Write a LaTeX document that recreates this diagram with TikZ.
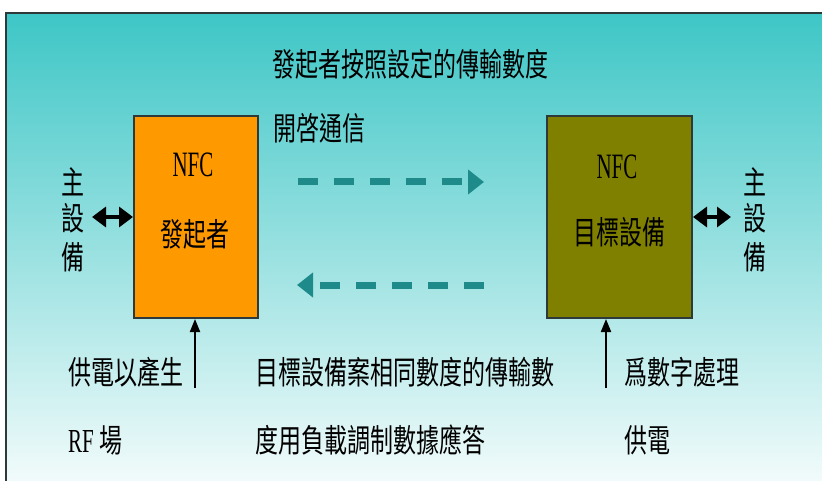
\documentclass[tikz,border=0pt]{standalone}
\usepackage{fontspec}
\setmainfont{Liberation Serif}
\newfontfamily\cjk{Noto Sans CJK TC}
\usetikzlibrary{arrows.meta}
\newcommand{\zh}[1]{\scalebox{1}[1.4]{\cjk #1}}
\newcommand{\nfcx}{\scalebox{1}[1.7]{NFC}}
\definecolor{bgtop}{HTML}{3EC6C6}
\definecolor{bgbot}{HTML}{F6FCFC}
\definecolor{orangec}{HTML}{FF9900}
\definecolor{olivec}{HTML}{808000}
\definecolor{tealc}{HTML}{1E8A8A}
\definecolor{framec}{HTML}{2E3A3A}
\tikzset{
  txt/.style={inner sep=0pt, font=\fontsize{23}{23}\selectfont},
  nfctxt/.style={inner sep=0pt, font=\fontsize{21}{21}\selectfont},
  devbox/.style={draw=framec, line width=2pt, minimum width=124pt, minimum height=202pt, anchor=north west, inner sep=0pt},
  dbl/.style={{Triangle[length=14pt,width=20pt]}-{Triangle[length=14pt,width=20pt]}, line width=3.5pt},
  flowarrow/.style={line width=7pt, draw=tealc, dash pattern=on 20pt off 16pt, -{Triangle[length=16pt,width=24pt,fill=tealc]}},
  feed/.style={line width=2pt, -{Triangle[length=13pt,width=10pt]}}
}
\begin{document}
\begin{tikzpicture}[x=1pt,y=-1pt]
\useasboundingbox (0,0) rectangle (822,481);
% background
\shade[top color=bgtop, bottom color=bgbot] (6,13) rectangle (830,492);
\draw[line width=2pt, draw=framec] (6,492) -- (6,13) -- (830,13);
% title
\node[txt] (title) at (410,64) {\zh{發起者按照設定的傳輸數度}};
\node[txt, anchor=west] (open) at (273,128) {\zh{開啓通信}};
% boxes
\node[devbox, fill=orangec] (init) at (133,115) {};
\node[devbox, fill=olivec, minimum width=145pt] (targ) at (546,115) {};
\node[nfctxt] (nfc1) at (193,165) {\nfcx};
\node[txt] (init1) at (195,234) {\zh{發起者}};
\node[nfctxt] (nfc2) at (617,167) {\nfcx};
\node[txt] (targ1) at (619,232) {\zh{目標設備}};
% host labels
\node[txt] (hl1) at (73,182) {\zh{主}};
\node[txt] (hl2) at (73,218) {\zh{設}};
\node[txt] (hl3) at (73,257) {\zh{備}};
\node[txt] (hr1) at (755,182) {\zh{主}};
\node[txt] (hr2) at (755,218) {\zh{設}};
\node[txt] (hr3) at (755,257) {\zh{備}};
% host arrows
\coordinate (hostL) at (92,217);
\coordinate (hostR) at (731,217);
\draw[dbl] (hostL) -- (init.west |- hostL);
\draw[dbl] (targ.east |- hostR) -- (hostR);
% dashed arrows
\coordinate (a1s) at (298,182);
\coordinate (a1e) at (484,182);
\coordinate (a2s) at (484,285);
\coordinate (a2e) at (297,285);
\draw[flowarrow] (a1s) -- (a1e);
\draw[flowarrow] (a2s) -- (a2e);
% feed arrows
\coordinate (fL) at (195,388);
\coordinate (fR) at (606,388);
\draw[feed] (fL) -- (init.south -| fL);
\draw[feed] (fR) -- (targ.south -| fR);
% bottom texts
\node[txt, anchor=west] (b1) at (68,372) {\zh{供電以產生}};
\node[txt, anchor=west] (b2) at (68,440) {\scalebox{1}[1.6]{\fontsize{21}{21}\selectfont RF}\hspace{6pt}\zh{場}};
\node[txt, anchor=west] (b3) at (255,372) {\zh{目標設備案相同數度的傳輸數}};
\node[txt, anchor=west] (b4) at (255,440) {\zh{度用負載調制數據應答}};
\node[txt, anchor=west] (b5) at (624,372) {\zh{爲數字處理}};
\node[txt, anchor=west] (b6) at (624,440) {\zh{供電}};
\end{tikzpicture}
\end{document}
